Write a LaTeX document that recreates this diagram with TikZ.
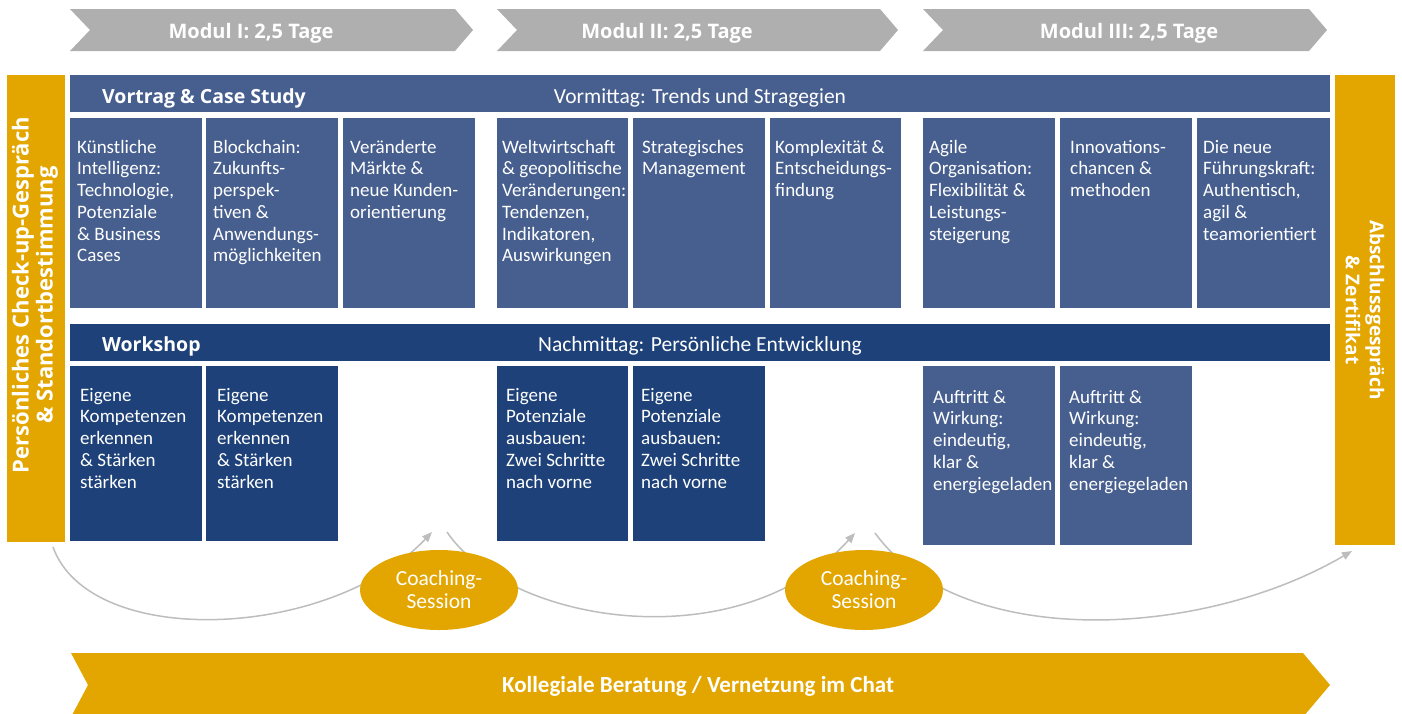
\documentclass[tikz,border=0pt]{standalone}
\usepackage{fontspec}
\setmainfont{Carlito}
\newfontfamily\osans{Open Sans}
\usetikzlibrary{arrows.meta,calc,shapes.geometric}
\definecolor{chev}{HTML}{AFAFAF}
\definecolor{medblue}{HTML}{475F8F}
\definecolor{darkblue}{HTML}{1D4178}
\definecolor{orng}{HTML}{E3A600}
\definecolor{curvegray}{HTML}{BDBDBD}
\begin{document}
\begin{tikzpicture}[x=1pt,y=-1pt,
  box/.style={anchor=north west,inner sep=0pt,outer sep=0pt,draw=none},
  medbox/.style={box,fill=medblue},
  darkbox/.style={box,fill=darkblue},
  btxt/.style={anchor=north west,inner sep=0pt,text=white,align=left,font=\fontsize{19}{21.7}\selectfont},
  headtxt/.style={inner sep=0pt,text=white,font=\osans\bfseries\fontsize{20}{24}\selectfont},
  subtxt/.style={inner sep=0pt,text=white,font=\fontsize{21.5}{25}\selectfont},
  bartxt/.style={inner sep=0pt,text=white,align=center,font=\osans\bfseries\fontsize{22}{24}\selectfont},
  coach/.style={ellipse,fill=orng,minimum width=158pt,minimum height=80pt,inner sep=0pt,text=white,align=center,font=\fontsize{21.5}{23}\selectfont},
  flow/.style={draw=curvegray,line width=1.5pt,-{Triangle[length=10pt,width=8pt]}}
]
\useasboundingbox (0,0) rectangle (1402,713);

% ---- top chevrons
\path[fill=chev] (70,9) -- (455,9) -- (473,30) -- (455,51) -- (70,51) -- (90,30) -- cycle;
\path[fill=chev] (497,9) -- (880,9) -- (898,30) -- (880,51) -- (497,51) -- (517,30) -- cycle;
\path[fill=chev] (923,9) -- (1309,9) -- (1327,30) -- (1309,51) -- (923,51) -- (943,30) -- cycle;
\node[headtxt,anchor=base] (m1) at (251,38) {Modul I: 2,5 Tage};
\node[headtxt,anchor=base] (m2) at (667,38) {Modul II: 2,5 Tage};
\node[headtxt,anchor=base] (m3) at (1129,38) {Modul III: 2,5 Tage};

% ---- side bars
\node[box,fill=orng,minimum width=58pt,minimum height=467pt] (lbar) at (7,75) {};
\node[box,fill=orng,minimum width=60pt,minimum height=470pt] (rbar) at (1335,75) {};
\node[bartxt,rotate=90] (ltxt) at (35,295) {Persönliches Check-up-Gespräch\\\& Standortbestimmung};
\node[bartxt,rotate=-90,font=\osans\bfseries\fontsize{19}{24}\selectfont] (rtxt) at (1365,310) {Abschlussgespräch\\\& Zertifikat};

% ---- header bars
\node[medbox,minimum width=1260pt,minimum height=37pt] (h1) at (70,75) {};
\node[headtxt,anchor=base west,font=\osans\bfseries\fontsize{19.5}{24}\selectfont] (h1a) at (102,103) {Vortrag \& Case Study};
\node[subtxt,anchor=base] (h1b) at (700,103) {Vormittag: Trends und Stragegien};
\node[darkbox,minimum width=1260pt,minimum height=37pt] (h2) at (70,324) {};
\node[headtxt,anchor=base west,font=\osans\bfseries\fontsize{19.5}{24}\selectfont] (h2a) at (102,351) {Workshop};
\node[subtxt,anchor=base] (h2b) at (700,351) {Nachmittag: Persönliche Entwicklung};

% ---- top boxes
\node[medbox,minimum width=132pt,minimum height=190pt] (t1) at (70,118) {};
\node[medbox,minimum width=132pt,minimum height=190pt] (t2) at (206,118) {};
\node[medbox,minimum width=132pt,minimum height=190pt] (t3) at (343,118) {};
\node[medbox,minimum width=131pt,minimum height=190pt] (t4) at (497,118) {};
\node[medbox,minimum width=132pt,minimum height=190pt] (t5) at (633,118) {};
\node[medbox,minimum width=131pt,minimum height=190pt] (t6) at (770,118) {};
\node[medbox,minimum width=132pt,minimum height=190pt] (t7) at (923,118) {};
\node[medbox,minimum width=132pt,minimum height=190pt] (t8) at (1060,118) {};
\node[medbox,minimum width=133pt,minimum height=190pt] (t9) at (1197,118) {};

\node[btxt] (t1t) at ($(t1.north west)+(7,20)$) {\rule{0pt}{15pt}Künstliche\\Intelligenz:\\Technologie,\\Potenziale\\\& Business\\Cases};
\node[btxt] (t2t) at ($(t2.north west)+(7,20)$) {\rule{0pt}{15pt}Blockchain:\\Zukunfts-\\perspek-\\tiven \&\\Anwendungs-\\möglichkeiten};
\node[btxt] (t3t) at ($(t3.north west)+(7,20)$) {\rule{0pt}{15pt}Veränderte\\Märkte \&\\neue Kunden-\\orientierung};
\node[btxt] (t4t) at ($(t4.north west)+(5,20)$) {\rule{0pt}{15pt}Weltwirtschaft\\\& geopolitische\\Veränderungen:\\Tendenzen,\\Indikatoren,\\Auswirkungen};
\node[btxt] (t5t) at ($(t5.north west)+(9,20)$) {\rule{0pt}{15pt}Strategisches\\Management};
\node[btxt] (t6t) at ($(t6.north west)+(5,20)$) {\rule{0pt}{15pt}Komplexität \&\\Entscheidungs-\\findung};
\node[btxt] (t7t) at ($(t7.north west)+(6,20)$) {\rule{0pt}{15pt}Agile\\Organisation:\\Flexibilität \&\\Leistungs-\\steigerung};
\node[btxt] (t8t) at ($(t8.north west)+(10,20)$) {\rule{0pt}{15pt}Innovations-\\chancen \&\\methoden};
\node[btxt] (t9t) at ($(t9.north west)+(6,20)$) {\rule{0pt}{15pt}Die neue\\Führungskraft:\\Authentisch,\\agil \&\\teamorientiert};

% ---- bottom boxes
\node[darkbox,minimum width=132pt,minimum height=175pt] (w1) at (70,366) {};
\node[darkbox,minimum width=132pt,minimum height=175pt] (w2) at (206,366) {};
\node[darkbox,minimum width=131pt,minimum height=175pt] (w3) at (497,366) {};
\node[darkbox,minimum width=132pt,minimum height=175pt] (w4) at (633,366) {};
\node[medbox,minimum width=132pt,minimum height=179pt] (w5) at (923,366) {};
\node[medbox,minimum width=132pt,minimum height=179pt] (w6) at (1060,366) {};

\node[btxt] (w1t) at ($(w1.north west)+(10,20)$) {\rule{0pt}{15pt}Eigene\\Kompetenzen\\erkennen\\\& Stärken\\stärken};
\node[btxt] (w2t) at ($(w2.north west)+(11,20)$) {\rule{0pt}{15pt}Eigene\\Kompetenzen\\erkennen\\\& Stärken\\stärken};
\node[btxt] (w3t) at ($(w3.north west)+(9,20)$) {\rule{0pt}{15pt}Eigene\\Potenziale\\ausbauen:\\Zwei Schritte\\nach vorne};
\node[btxt] (w4t) at ($(w4.north west)+(8,20)$) {\rule{0pt}{15pt}Eigene\\Potenziale\\ausbauen:\\Zwei Schritte\\nach vorne};
\node[btxt] (w5t) at ($(w5.north west)+(10,22)$) {\rule{0pt}{15pt}Auftritt \&\\Wirkung:\\eindeutig,\\klar \&\\energiegeladen};
\node[btxt] (w6t) at ($(w6.north west)+(9,22)$) {\rule{0pt}{15pt}Auftritt \&\\Wirkung:\\eindeutig,\\klar \&\\energiegeladen};

% ---- flow curves
\coordinate (a1s) at ($(lbar.south east)+(-12,5)$);
\coordinate (a1e) at (432,532);
\coordinate (a2s) at (447,532);
\coordinate (a2e) at (855,533);
\coordinate (a3s) at (875,533);
\coordinate (a3e) at ($(rbar.south west)+(17,6)$);
\draw[flow] (a1s) .. controls (90,650) and (330,640) .. (a1e);
\draw[flow] (a2s) .. controls (510,625) and (740,660) .. (a2e);
\draw[flow] (a3s) .. controls (960,650) and (1200,640) .. (a3e);

% ---- coaching sessions
\node[coach] (c1) at (439,590) {Coaching-\\Session};
\node[coach] (c2) at (864,590) {Coaching-\\Session};

% ---- bottom arrow
\path[fill=orng] (71,653) -- (1303,653) -- (1330,685) -- (1303,717) -- (71,717) -- (88,685) -- cycle;
\node[inner sep=0pt,text=white,font=\bfseries\fontsize{23}{26}\selectfont] (kb) at (698,686) {Kollegiale Beratung / Vernetzung im Chat};
\end{tikzpicture}
\end{document}
